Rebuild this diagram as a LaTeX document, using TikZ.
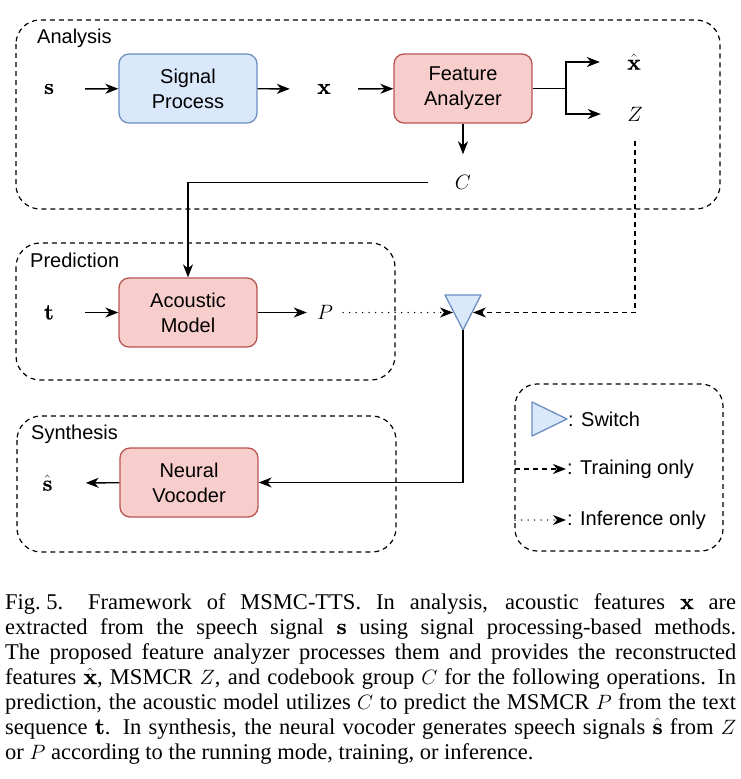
\documentclass[tikz,border=0pt]{standalone}
\usepackage[no-math]{fontspec}
\setmainfont{Liberation Serif}
\newfontfamily\diafont{Liberation Sans}
\newfontfamily\lmbold{lmroman10-bold.otf}[FakeBold=0.6]
\usetikzlibrary{arrows.meta}
\definecolor{blueF}{HTML}{DAE8FC}
\definecolor{blueD}{HTML}{6C8EBF}
\definecolor{redF}{HTML}{F8CECC}
\definecolor{redD}{HTML}{B85450}
\newcommand\bvec[1]{\mbox{\lmbold #1}}
\begin{document}
\begin{tikzpicture}[x=1pt,y=-1pt,
  grp/.style={draw, line width=1.2pt, dash pattern=on 5pt off 4pt, rounded corners=24pt},
  blk/.style={draw, line width=1.3pt, rounded corners=10pt, minimum width=138pt, minimum height=69pt,
    align=center, inner sep=0pt, font=\diafont\fontsize{20}{25}\selectfont},
  bluebox/.style={blk, fill=blueF, draw=blueD},
  redbox/.style={blk, fill=redF, draw=redD},
  mlbl/.style={inner sep=0pt, font=\fontsize{22}{26}\selectfont},
  glabel/.style={anchor=base west, inner sep=0pt, font=\diafont\fontsize{20}{24}\selectfont},
  ltext/.style={anchor=west, inner sep=1pt, font=\diafont\fontsize{20}{24}\selectfont},
  arr/.style={line width=1.4pt, -{Stealth[length=13pt,width=10pt,inset=4pt]}},
  dotl/.style={line width=1.5pt, line cap=round, dash pattern=on 0pt off 6.5pt},
  dashl/.style={dash pattern=on 5pt off 4pt},
  capline/.style={anchor=base west, inner sep=0pt, font=\fontsize{22.5}{25}\selectfont}
]
\useasboundingbox (0,0) rectangle (741,779);

% group frames
\draw[grp] (16,20) rectangle (720,209);
\draw[grp] (16,243) rectangle (395,380);
\draw[grp] (17,416) rectangle (396,552);
\draw[grp, rounded corners=22pt] (515,384) rectangle (723,551);
\node[glabel] (lan) at (37,43) {Analysis};
\node[glabel] (lpr) at (30,267) {Prediction};
\node[glabel] (lsy) at (31,439) {Synthesis};

% analysis
\node[mlbl, minimum width=72pt] (s) at (49,89) {$\bvec{s}$};
\node[bluebox] (sp) at (188,88.5) {Signal\\Process};
\node[mlbl, minimum width=68pt] (x) at (324,89) {$\bvec{x}$};
\node[redbox] (fa) at (463,88.5) {Feature\\Analyzer};
\node[mlbl, minimum width=68pt] (xh) at (634,62) {$\hat{\bvec{x}}$};
\node[mlbl, minimum width=68pt, minimum height=53pt] (Z) at (635,114) {$Z$};
\node[mlbl, minimum width=70pt, minimum height=56pt] (C) at (463,182.5) {$C$};
\coordinate (fk) at (566,88.5);

\draw[arr] (s) -- (sp);
\draw[arr] (sp) -- (x);
\draw[arr] (x) -- (fa);
\draw[line width=1.4pt] (fa.east) -- (fk);
\draw[arr] (fk) |- (xh.west);
\draw[arr] (fk) |- (Z.west);
\draw[arr] (fa.south) -- (C.north);

% prediction
\node[mlbl, minimum width=72pt] (t) at (49,312.5) {$\bvec{t}$};
\node[redbox] (am) at (188,312.5) {Acoustic\\Model};
\node[mlbl, minimum width=36pt] (P) at (325,312.5) {$P$};
\draw[arr] (C.west) -| (am.north);
\draw[arr] (t) -- (am);
\draw[arr] (am) -- (P);

% switch
\draw[line width=1.3pt, draw=blueD, fill=blueF, line join=round] (445,295) -- (481,295) -- (463,330) -- cycle;
\coordinate (swl) at (453,312.5);
\coordinate (swr) at (473,312.5);
\coordinate (swb) at (463,330);
\draw[arr, dotl] (P.east) -- (swl);
\draw[arr, dashl] (Z.south) |- (swr);

% synthesis
\node[mlbl, minimum width=76pt] (sh) at (47.5,483) {$\hat{\bvec{s}}$};
\node[redbox] (nv) at (189,482.5) {Neural\\Vocoder};
\draw[arr] (swb) |- (nv.east);
\draw[arr] (nv) -- (sh);

% legend
\draw[line width=1.3pt, draw=blueD, fill=blueF, line join=round] (532,402) -- (567,419) -- (532,436) -- cycle;
\node[ltext] (lg1) at (567,419) {: Switch};
\node[ltext] (lg2) at (566,469) {: Training only};
\node[ltext] (lg3) at (566,520) {: Inference only};
\coordinate (lg2s) at (515,469);
\coordinate (lg3s) at (515,520);
\draw[arr, dashl] (lg2s) -- (lg2.west);
\draw[arr, dotl] (lg3s) -- (lg3.west);

% caption
\node[capline] (c1) at (5,609) {\makebox[731pt][s]{Fig.\hspace{0.25em}5.\hspace{1.1em}Framework of MSMC-TTS. In analysis, acoustic features $\bvec{x}$ are}};
\node[capline] (c2) at (5,634) {\makebox[731pt][s]{extracted from the speech signal $\bvec{s}$ using signal processing-based methods.}};
\node[capline] (c3) at (5,659) {\makebox[731pt][s]{The proposed feature analyzer processes them and provides the reconstructed}};
\node[capline] (c4) at (5,684) {\makebox[731pt][s]{features $\hat{\bvec{x}}$, MSMCR $Z$, and codebook group $C$ for the following operations. In}};
\node[capline] (c5) at (5,709) {\makebox[731pt][s]{prediction, the acoustic model utilizes $C$ to predict the MSMCR $P$ from the text}};
\node[capline] (c6) at (5,734) {\makebox[731pt][s]{sequence $\bvec{t}$. In synthesis, the neural vocoder generates speech signals $\hat{\bvec{s}}$ from $Z$}};
\node[capline] (c7) at (5,759) {or $P$ according to the running mode, training, or inference.};
\end{tikzpicture}
\end{document}
